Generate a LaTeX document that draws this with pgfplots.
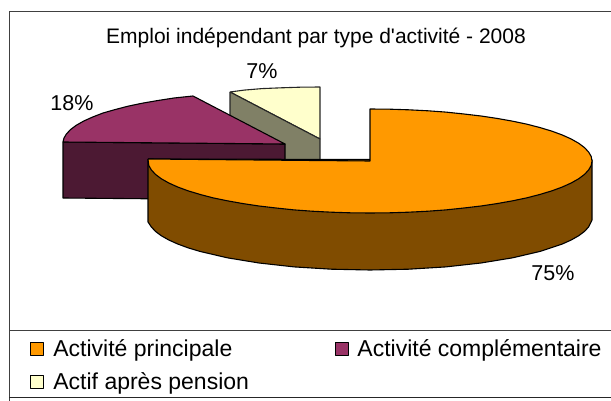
\documentclass[border=0pt]{standalone}
\usepackage{pgfplots}
\pgfplotsset{compat=1.18}
\usepackage{fontspec}
\setmainfont{Liberation Sans}
\newfontfamily\ftitle{Liberation Sans}
\definecolor{cOrange}{HTML}{FF9900}
\definecolor{cOrangeD}{HTML}{804C00}
\definecolor{cMag}{HTML}{993366}
\definecolor{cMagD}{HTML}{4C1933}
\definecolor{cCream}{HTML}{FFFFCC}
\definecolor{cCreamD}{HTML}{808066}
\begin{document}
\begin{tikzpicture}[x=1pt,y=1pt]
\path[use as bounding box] (0,0) rectangle (611pt,401pt);
\begin{axis}[
  scale only axis, width=611pt, height=401pt, at={(0,0)}, anchor=south west,
  xmin=0, xmax=611, ymin=0, ymax=401, y dir=reverse,
  hide axis, clip=false,
  legend columns=2,
  legend cell align=left,
  legend style={at={(axis cs:30.5,338)}, anchor=north west, draw=none, fill=none,
    font=\fontsize{23pt}{27pt}\selectfont, inner sep=0pt, outer sep=0pt,
    row sep=10.4pt,
    /tikz/every odd column/.append style={column sep=7pt},
    /tikz/every even column/.append style={column sep=83.5pt}},
  legend image code/.code={\draw[#1,line width=0.9pt] (0pt,-6pt) rectangle (13pt,6.5pt);},
  every axis plot/.append style={line width=1.1pt, line join=round},
]
\addlegendimage{fill=cOrange,draw=black}
\addlegendentry{Activité principale}
\addlegendimage{fill=cMag,draw=black}
\addlegendentry{Activité complémentaire}
\addlegendimage{fill=cCream,draw=black}
\addlegendentry{Actif après pension}

% 7 % slice
\addplot[forget plot,fill=cCream,draw=black!85] coordinates {(230,92)(244.1,90.1)(262,88.6)(281.5,87.8)(300,87.2)(320,87)(320,139)(230,92)};
\addplot[forget plot,fill=cCreamD,draw=black!85] coordinates {(230,92)(320,139)(320,161)(230,161)(230,92)};
% 18 % slice
\addplot[forget plot,fill=cMagD,draw=black] coordinates {(63,142)(285,144)(285,200)(63,198)(63,142)};
\addplot[forget plot,fill=cMag,draw=black] coordinates {(63,142)(64,138)(66.4,134)(70.6,129.5)(76.4,125.2)(83.8,121)(92.7,117)(103,113)(115,109.6)(128,106.2)(142.3,103.2)(158,100.5)(174,98)(193,96)(285,144)(63,142)};
% 75 % slice
\addplot[forget plot,fill=cOrangeD,draw=black] coordinates {(148,159)(148,222)(151.4,227)(155.6,231.5)(161.4,235.8)(168.8,240)(177.7,244)(188,247.8)(199.9,251.4)(227.3,257.8)(259,263)(294.1,266.9)(331.5,269.2)(370,270)(408.5,269.2)(445.9,266.9)(481,263)(512.7,257.8)(540.1,251.4)(562.3,244)(571.2,240)(578.6,235.8)(584.4,231.5)(588.6,227)(592,220)(592,160)(148,159)};
\addplot[forget plot,fill=cOrange,draw=black] coordinates {(148,159)(148.8,165.5)(151.4,170)(155.6,174.5)(161.4,178.8)(168.8,183)(177.7,187)(188,190.8)(199.9,194.4)(212.8,197.8)(227.3,200.8)(243,203.6)(259,206)(276,208)(294.1,209.9)(312,211.2)(331.5,212.2)(350,212.8)(370,213)(390,212.8)(408.5,212.2)(428,211.2)(445.9,209.9)(464,208)(481,206)(497,203.6)(512.7,200.8)(527,197.8)(540.1,194.4)(552,190.8)(562.3,187)(571.2,183)(578.6,178.8)(584.4,174.5)(588.6,170)(591.2,165.5)(592,161)(591.2,156.5)(588.6,152)(584.4,147.5)(578.6,143.2)(571.2,139)(562.3,135)(552,131.2)(540.1,127.6)(527,124.2)(512.7,121.2)(497,118.4)(481,116)(464,114)(445.9,112.1)(428,110.8)(408.5,109.8)(390,109.2)(370,109)(370,161)(148,159)};

% frame
\draw[black!75,line width=1pt] (axis cs:9,401) -- (axis cs:9,12) -- (axis cs:611,12);
\draw[black!75,line width=1pt] (axis cs:9,330) -- (axis cs:611,330);
\draw[black!85,line width=1pt] (axis cs:9,397) -- (axis cs:611,397);

\node[font=\fontsize{21pt}{24pt}\selectfont\ftitle] at (axis cs:316,37.5) {Emploi indépendant par type d'activité - 2008};
\node[font=\fontsize{21.5pt}{24pt}\selectfont] at (axis cs:72,103) {18\%};
\node[font=\fontsize{21.5pt}{24pt}\selectfont] at (axis cs:262,71) {7\%};
\node[font=\fontsize{21.5pt}{24pt}\selectfont] at (axis cs:553,273) {75\%};
\end{axis}
\end{tikzpicture}
\end{document}
